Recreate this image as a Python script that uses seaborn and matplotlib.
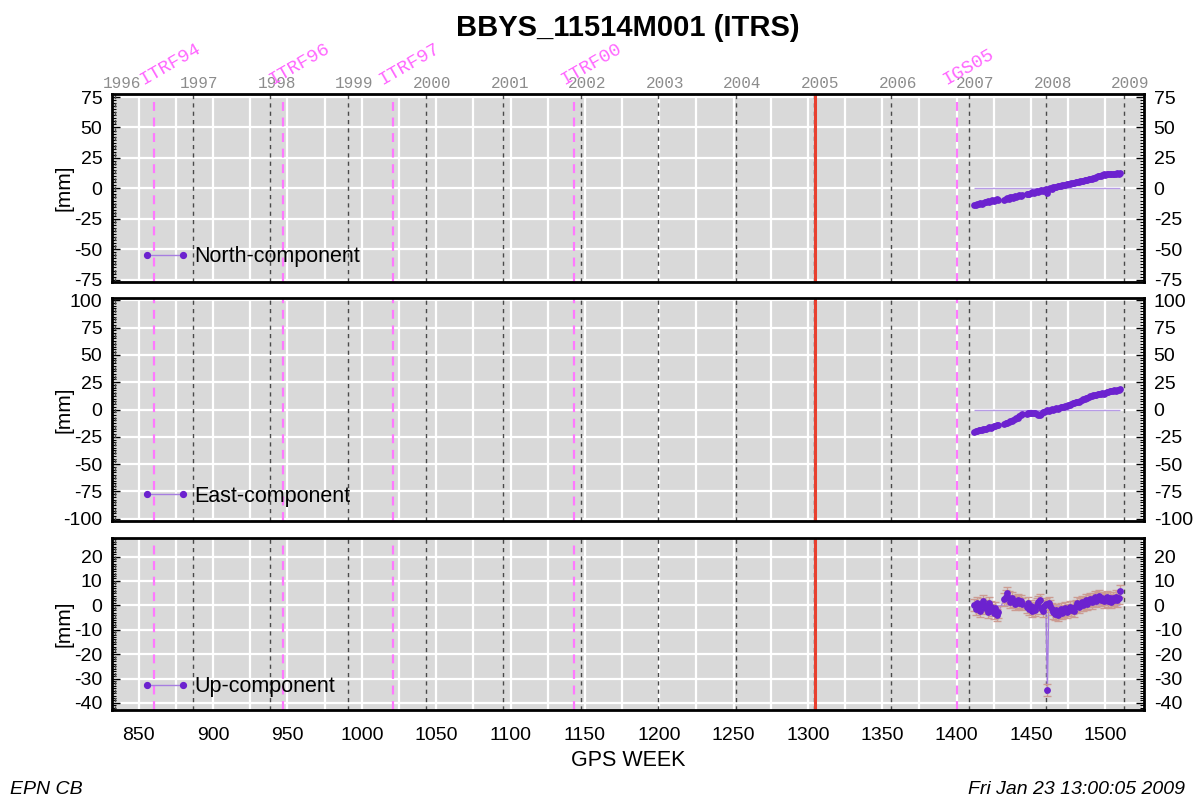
import numpy as np
import pandas as pd
import matplotlib
matplotlib.use("Agg")
import matplotlib.pyplot as plt
import seaborn as sns
from matplotlib.lines import Line2D
from matplotlib.legend_handler import HandlerLine2D
from matplotlib.ticker import MultipleLocator

# ---------------- data ----------------
weeks = [1412, 1413, 1414, 1415, 1416, 1417, 1418, 1419, 1420, 1421, 1422, 1423, 1424, 1425, 1426, 1427, 1428,
         1432, 1433, 1434, 1435, 1436, 1437, 1438, 1439, 1440, 1441, 1442, 1443, 1444,
         1447, 1448, 1449, 1450, 1451, 1452, 1453, 1454, 1455, 1456, 1457, 1458, 1459, 1460, 1461, 1462,
         1463, 1464, 1465, 1466, 1467, 1468, 1469, 1470, 1471, 1472, 1473, 1474, 1475, 1476, 1477, 1478,
         1479, 1480, 1481, 1482, 1483, 1484, 1485, 1486, 1487, 1488, 1489, 1490, 1491, 1492, 1493, 1494,
         1495, 1496, 1497, 1498, 1499, 1500, 1501, 1502, 1503, 1504, 1505, 1506, 1507, 1508, 1509, 1510]

north = [-13.6, -13.9, -13.1, -12.8, -12.2, -12.6, -11.7, -11.0, -11.4, -10.3, -10.9, -10.1, -9.6, -10.2, -9.4, -9.0, -9.5,
         -9.2, -8.4, -8.0, -8.6, -7.5, -7.1, -7.7, -6.6, -6.9, -6.1, -5.8, -6.3, -5.4,
         -5.0, -4.3, -4.6, -3.8, -3.2, -3.7, -2.9, -2.4, -2.8, -2.0, -1.6, -2.2, -1.3, -0.9, -4.0, -0.8,
         0.2, -0.3, 0.8, 1.3, 0.9, 1.8, 2.2, 1.7, 2.6, 3.0, 2.5, 3.3, 3.8, 3.4, 4.2, 4.6,
         4.1, 5.0, 5.4, 4.9, 5.8, 6.2, 5.7, 6.5, 7.0, 6.6, 7.4, 7.8, 7.3, 8.3, 8.9, 9.4,
         9.9, 10.5, 10.2, 11.0, 11.4, 11.1, 11.6, 11.9, 11.5, 11.8, 12.2, 11.9, 12.0, 12.4, 12.1, 12.6]

east = [-20.4, -19.8, -20.0, -19.1, -18.7, -18.9, -17.9, -17.4, -17.6, -16.8, -16.3, -16.6, -15.7, -15.2, -15.5, -14.6, -14.3,
        -12.9, -12.3, -12.6, -11.5, -10.9, -10.2, -9.6, -8.9, -8.1, -7.4, -6.3, -5.2, -4.4,
        -3.8, -3.3, -3.6, -3.0, -3.4, -2.8, -3.1, -3.9, -4.8, -5.2, -4.1, -2.6, -1.9, -1.5, -0.6, -1.2,
        -0.3, 0.2, -0.1, 0.6, 1.1, 0.9, 1.7, 2.1, 1.9, 2.7, 3.1, 2.9, 3.8, 4.3, 4.9, 5.5,
        5.9, 6.6, 7.2, 7.0, 8.1, 8.5, 9.2, 9.9, 10.4, 10.9, 11.5, 12.1, 12.8, 13.3, 13.1, 13.7,
        14.0, 13.8, 14.4, 14.8, 14.6, 15.1, 15.6, 16.0, 16.5, 16.8, 17.1, 17.4, 17.3, 17.8, 18.0, 18.4]

up = [0.2, -1.5, 1.0, -0.8, -2.4, 0.5, 1.8, -1.2, -0.3, -2.8, 0.9, -0.6, -1.9, -3.2, -1.0, -3.9, -2.7,
      2.4, 3.6, 5.1, 3.2, 1.4, 2.8, 1.9, 0.6, 1.5, 2.3, 0.9, 1.6, 0.4,
      -0.7, 0.8, -1.6, -0.2, -2.3, -1.1, -2.0, 0.3, 1.2, 2.1, -0.9, -2.2, -0.4, 0.6, -34.8, 0.9,
      -0.3, -1.4, -2.9, -3.4, -2.1, -3.8, -2.6, -1.5, -3.0, -2.2, -1.1, -2.7, -1.9, -0.6, -1.8, -0.9,
      -2.3, -0.4, 0.8, -0.7, 0.3, 1.5, 0.2, 1.1, 2.0, 0.6, 1.8, 2.7, 1.2, 2.4, 3.3, 1.9,
      2.9, 3.8, 2.2, 3.1, 1.6, 2.6, 3.5, 1.9, 2.8, 1.4, 3.0, 2.3, 3.6, 2.0, 3.2, 5.8]

up_sigma = 2.5

years = [1996, 1997, 1998, 1999, 2000, 2001, 2002, 2003, 2004, 2005, 2006, 2007, 2008, 2009]
frame_names = ["ITRF94", "ITRF96", "ITRF97", "ITRF00", "IGS05"]
frame_weeks = [860, 947, 1021, 1143, 1400]
event_week = 1305
panel_names = ["North-component", "East-component", "Up-component"]
x_ticks = [850, 900, 950, 1000, 1050, 1100, 1150, 1200, 1250, 1300, 1350, 1400, 1450, 1500]

# ---------------- style ----------------
sns.set_theme(style="darkgrid", rc={
    "axes.facecolor": "#d9d9d9",
    "grid.color": "white",
    "axes.edgecolor": "black",
    "text.color": "black",
    "axes.labelcolor": "black",
    "xtick.color": "black",
    "ytick.color": "black",
})
plt.rcParams["font.family"] = ["Liberation Sans", "DejaVu Sans"]
plt.rcParams["axes.unicode_minus"] = False

PURPLE = "#6c22cf"
LIGHT_PURPLE = "#a77ee0"
MONO = ["Liberation Mono", "DejaVu Sans Mono"]

year_weeks = [(pd.Timestamp(f"{y}-01-01") - pd.Timestamp("1980-01-06")).days / 7.0 for y in years]

fig = plt.figure(figsize=(11.96, 7.98), dpi=100)
W, H = 1196.0, 798.0
left, right = 112, 1144
rects_px = [(94, 281.5), (298, 521), (537.5, 710)]
axes = []
for top, bot in rects_px:
    axes.append(fig.add_axes([left / W, (H - bot) / H, (right - left) / W, (bot - top) / H]))

series = [north, east, up]
ylims = [(-76.5, 77.5), (-102, 102), (-42.9, 27.8)]
majors = [25, 25, 10]
leg_y = [0.132, 0.112, 0.134]

for i, (ax, vals, name, ylim, major) in enumerate(zip(axes, series, panel_names, ylims, majors)):
    ax.set_facecolor("#d9d9d9")
    ax.set_xlim(832, 1526)
    ax.set_ylim(*ylim)
    ax.xaxis.set_major_locator(MultipleLocator(50))
    ax.xaxis.set_minor_locator(MultipleLocator(25))
    ax.yaxis.set_major_locator(MultipleLocator(major))
    ax.yaxis.set_minor_locator(MultipleLocator(major / 10))
    ax.grid(False)
    ax.grid(True, which="both", axis="x", color="white", lw=1.6)
    ax.grid(True, which="major", axis="y", color="white", lw=1.6)
    ax.set_axisbelow(True)

    for yw in year_weeks:
        ax.axvline(yw, color="#4a4a4a", lw=1.0, ls=(0, (3, 3)), zorder=1.5)
    for fw in frame_weeks:
        ax.axvline(fw, color="#ff78ff", lw=1.6, ls=(0, (4, 3)), zorder=1.6)
    ax.axvline(event_week, color="#e8402f", lw=2.2, zorder=1.7)

    df = pd.DataFrame({"week": weeks, "value": vals})
    ax.hlines(0, df["week"].min(), df["week"].max(), color="#b79be6", lw=1.0, zorder=2)
    sns.lineplot(data=df, x="week", y="value", ax=ax, color=LIGHT_PURPLE, lw=1.0,
                 estimator=None, sort=False, zorder=2.5)
    if i == 2:
        ax.errorbar(df["week"], df["value"], yerr=up_sigma, fmt="none", ecolor="#cc9c92",
                    elinewidth=1.0, capsize=3, capthick=1.0, zorder=2.6)
    sns.scatterplot(data=df, x="week", y="value", ax=ax, color=PURPLE, s=24,
                    linewidth=0, zorder=5)

    for sp in ax.spines.values():
        sp.set_visible(True)
        sp.set_color("black")
        sp.set_linewidth(2.0)

    ax.tick_params(axis="y", which="both", left=True, right=True, labelleft=True,
                   labelright=True, direction="in", colors="black", labelsize=14)
    ax.tick_params(axis="y", which="major", length=6, width=1.0, pad=7)
    ax.tick_params(axis="y", which="minor", length=3, width=0.8)
    ax.tick_params(axis="x", which="both", length=0, labelsize=14, pad=12, colors="black")
    ax.set_xticks(x_ticks)
    if i < 2:
        ax.tick_params(axis="x", labelbottom=False)
    ax.set_xlabel("")
    ax.set_ylabel("[mm]", fontsize=15)
    ax.yaxis.set_label_coords(-0.037, 0.5)

    h = Line2D([], [], color=LIGHT_PURPLE, lw=1.0, marker="o", ms=4.2,
               mfc=PURPLE, mec=PURPLE)
    ax.legend([h], [name], loc="center left", bbox_to_anchor=(0.034, leg_y[i]),
              frameon=False, fontsize=15.5, handlelength=1.65, handletextpad=0.55,
              borderpad=0, borderaxespad=0,
              handler_map={h: HandlerLine2D(numpoints=2, marker_pad=0)})

# year labels and reference-frame labels above the first panel
top_ax = axes[0]
trans = top_ax.get_xaxis_transform()
for y, yw in zip(years, year_weeks):
    top_ax.annotate(str(y), xy=(yw, 1.0), xycoords=trans, xytext=(6.5, 10),
                    textcoords="offset pixels", ha="center", va="center",
                    fontsize=11.5, color="#8c8c8c", family=MONO, annotation_clip=False)
for nm, fw in zip(frame_names, frame_weeks):
    top_ax.annotate(nm, xy=(fw, 1.0), xycoords=trans, xytext=(-17, 6),
                    textcoords="offset pixels", ha="left", va="bottom", rotation=30,
                    fontsize=13.5, color="#ff66ff", family=MONO, annotation_clip=False)

fig.text(0.525, 1 - 28 / H, "BBYS_11514M001 (ITRS)", ha="center", va="center",
         fontsize=21, fontweight="bold")
fig.text(0.525, (H - 761) / H, "GPS WEEK", ha="center", va="center", fontsize=15.5)
fig.text(0.008, (H - 789) / H, "EPN CB", ha="left", va="center", fontsize=14, style="italic")
fig.text(0.991, (H - 789) / H, "Fri Jan 23 13:00:05 2009", ha="right", va="center",
         fontsize=14, style="italic")

fig.savefig("out.png", dpi=100, facecolor="white")
